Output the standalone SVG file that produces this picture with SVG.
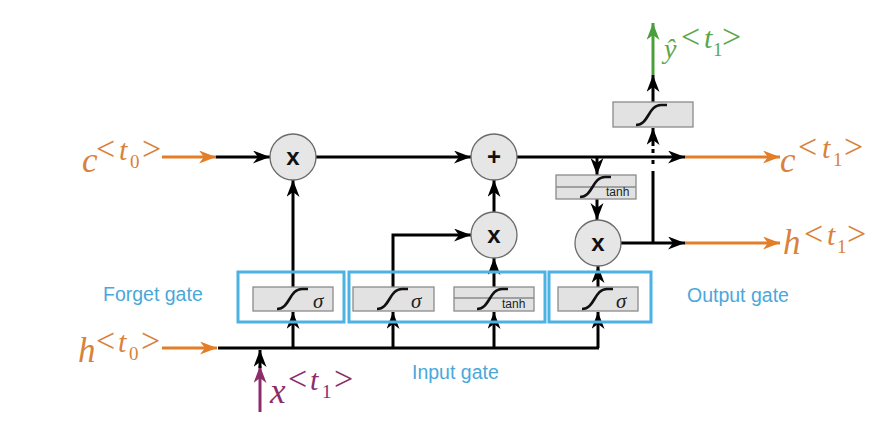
<svg xmlns="http://www.w3.org/2000/svg" xmlns:xlink="http://www.w3.org/1999/xlink" width="879" height="424" viewBox="0 0 879 424">
<style>
.ln{stroke:#000;stroke-width:3;fill:none}
.or{stroke:#e37d27;stroke-width:3;fill:none}
.gr{stroke:#4c9e3a;stroke-width:3;fill:none}
.pu{stroke:#8a2d6a;stroke-width:3;fill:none}
.dash{stroke-dasharray:4 7}
.gate{fill:none;stroke:#4cb1e3;stroke-width:3}
.box{fill:#e2e2e2;stroke:#8a8a8a;stroke-width:1.3}
.op{fill:#e6e6e6;stroke:#6b6b6b;stroke-width:1.3}
.sig{fill:none;stroke:#111;stroke-width:2.7}
.opt{font-family:"Liberation Sans",Arial,sans-serif;font-weight:bold;font-size:24px;fill:#111;text-anchor:middle}
.glab{font-family:"Liberation Sans",Arial,sans-serif;font-size:19.5px;fill:#4aa8db}
.tanh{font-family:"Liberation Sans",Arial,sans-serif;font-size:12px;fill:#222}
.sigma{font-family:"Liberation Serif","DejaVu Serif",serif;font-style:italic;font-size:21px;fill:#222}
.math{font-family:"Liberation Serif","DejaVu Serif",serif}
.it{font-style:italic}
.orange{fill:#d9823a}
.purple{fill:#8a2d6a}
.green{fill:#5aa84a}
</style>
<defs>
<marker id="ak" markerUnits="userSpaceOnUse" markerWidth="18" markerHeight="14" refX="17" refY="6.5" orient="auto" viewBox="0 0 18 14"><path d="M0,0 L17,6.5 L0,13 L5,6.5 z" fill="#000"/></marker>
<marker id="ao" markerUnits="userSpaceOnUse" markerWidth="18" markerHeight="14" refX="17" refY="6.5" orient="auto" viewBox="0 0 18 14"><path d="M0,0 L17,6.5 L0,13 L5,6.5 z" fill="#e37d27"/></marker>
<marker id="ag" markerUnits="userSpaceOnUse" markerWidth="18" markerHeight="14" refX="17" refY="6.5" orient="auto" viewBox="0 0 18 14"><path d="M0,0 L17,6.5 L0,13 L5,6.5 z" fill="#4c9e3a"/></marker>
<marker id="ap" markerUnits="userSpaceOnUse" markerWidth="18" markerHeight="14" refX="17" refY="6.5" orient="auto" viewBox="0 0 18 14"><path d="M0,0 L17,6.5 L0,13 L5,6.5 z" fill="#8a2d6a"/></marker>
<path id="sg" d="M-16,10 C-3,10 -4,-10 9,-10 L15,-10"/>
</defs>
<rect width="879" height="424" fill="#fff"/>

<g id="connectors">
<path class="or" d="M162,157 H216" marker-end="url(#ao)"/>
<path class="ln" d="M216,157 H270" marker-end="url(#ak)"/>
<path class="ln" d="M316,157 H471" marker-end="url(#ak)"/>
<path class="ln" d="M517,157 H685" marker-end="url(#ak)"/>
<path class="or" d="M685,157 H780" marker-end="url(#ao)"/>
<path class="ln" d="M597,157 V175" marker-end="url(#ak)"/>
<path class="ln" d="M597,199 V220" marker-end="url(#ak)"/>
<path class="ln" d="M598,287 V266" marker-end="url(#ak)"/>
<path class="ln" d="M621,243 H685" marker-end="url(#ak)"/>
<path class="or" d="M685,243 H780" marker-end="url(#ao)"/>
<path class="ln" d="M653,243 V175"/>
<path class="ln dash" d="M653,175 V142"/>
<path class="ln" d="M653,146 V128" marker-end="url(#ak)"/>
<path class="ln" d="M653,102 V75" marker-end="url(#ak)"/>
<path class="gr" d="M653,75 V23" marker-end="url(#ag)"/>
<path class="ln" d="M293,287 V180" marker-end="url(#ak)"/>
<path class="ln" d="M393,287 V235 H471" marker-end="url(#ak)"/>
<path class="ln" d="M494,287 V258" marker-end="url(#ak)"/>
<path class="ln" d="M494,212 V180" marker-end="url(#ak)"/>
<path class="ln" d="M218,348 H599"/>
<path class="or" d="M162,348 H217" marker-end="url(#ao)"/>
<path class="pu" d="M260,412 V366" marker-end="url(#ap)"/>
<path class="ln" d="M260,368 V350" marker-end="url(#ak)"/>
<path class="ln" d="M293,348 V312" marker-end="url(#ak)"/>
<path class="ln" d="M393,348 V312" marker-end="url(#ak)"/>
<path class="ln" d="M494,348 V312" marker-end="url(#ak)"/>
<path class="ln" d="M598,348 V312" marker-end="url(#ak)"/>
</g>

<g id="op-forget">
<circle class="op" cx="293" cy="157" r="23"/>
<text class="opt" x="293" y="165">x</text>
</g>
<g id="op-add">
<circle class="op" cx="494" cy="157" r="23"/>
<text class="opt" x="494" y="165">+</text>
</g>
<g id="op-input">
<circle class="op" cx="494" cy="235" r="23"/>
<text class="opt" x="494" y="243">x</text>
</g>
<g id="op-output">
<circle class="op" cx="598" cy="243" r="23"/>
<text class="opt" x="598" y="251">x</text>
</g>

<g id="tanh-cell">
<rect class="box" x="556" y="175" width="80" height="24"/>
<line x1="556" y1="187" x2="636" y2="187" stroke="#8a8a8a" stroke-width="1.3"/>
<use href="#sg" xlink:href="#sg" class="sig" x="596" y="187"/>
<text class="tanh" x="606" y="196">tanh</text>
</g>

<g id="yhat-activation">
<rect class="box" x="613" y="102" width="80" height="25"/>
<use href="#sg" xlink:href="#sg" class="sig" x="652" y="115"/>
</g>

<g id="forget-gate">
<rect class="gate" x="238" y="272" width="106" height="50"/>
<rect class="box" x="253" y="287" width="80" height="24"/>
<use href="#sg" xlink:href="#sg" class="sig" x="293" y="299"/>
<text class="sigma" x="313" y="308">σ</text>
<text class="glab" x="103" y="301">Forget gate</text>
</g>

<g id="input-gate">
<rect class="gate" x="349" y="272" width="196" height="50"/>
<rect class="box" x="353" y="287" width="81" height="24"/>
<use href="#sg" xlink:href="#sg" class="sig" x="393" y="299"/>
<text class="sigma" x="411" y="308">σ</text>
<rect class="box" x="454" y="287" width="80" height="24"/>
<line x1="454" y1="298" x2="534" y2="298" stroke="#8a8a8a" stroke-width="1.3"/>
<use href="#sg" xlink:href="#sg" class="sig" x="493" y="299"/>
<text class="tanh" x="502" y="308">tanh</text>
<text class="glab" x="412" y="379">Input gate</text>
</g>

<g id="output-gate">
<rect class="gate" x="549" y="272" width="102" height="50"/>
<rect class="box" x="558" y="287" width="80" height="24"/>
<use href="#sg" xlink:href="#sg" class="sig" x="598" y="299"/>
<text class="sigma" x="616" y="308">σ</text>
<text class="glab" x="687" y="302">Output gate</text>
</g>

<g id="label-c-t0">
<text class="math orange"><tspan x="82" y="172" class="it" font-size="35">c</tspan><tspan x="96" y="160" font-size="34">&lt;</tspan><tspan x="119" y="160" class="it" font-size="30">t</tspan><tspan x="130" y="168" font-size="19">0</tspan><tspan x="142" y="160" font-size="34">&gt;</tspan></text>
</g>
<g id="label-h-t0">
<text class="math orange"><tspan x="78" y="362" class="it" font-size="35">h</tspan><tspan x="96" y="352" font-size="34">&lt;</tspan><tspan x="118" y="352" class="it" font-size="30">t</tspan><tspan x="129" y="360" font-size="19">0</tspan><tspan x="141" y="352" font-size="34">&gt;</tspan></text>
</g>
<g id="label-x-t1">
<text class="math purple"><tspan x="270" y="403" class="it" font-size="35">x</tspan><tspan x="288" y="390" font-size="34">&lt;</tspan><tspan x="310" y="390" class="it" font-size="30">t</tspan><tspan x="322" y="398" font-size="19">1</tspan><tspan x="334" y="390" font-size="34">&gt;</tspan></text>
</g>
<g id="label-c-t1">
<text class="math orange"><tspan x="780" y="172" class="it" font-size="35">c</tspan><tspan x="798" y="158" font-size="34">&lt;</tspan><tspan x="822" y="158" class="it" font-size="30">t</tspan><tspan x="833" y="166" font-size="19">1</tspan><tspan x="844" y="158" font-size="34">&gt;</tspan></text>
</g>
<g id="label-h-t1">
<text class="math orange"><tspan x="783" y="254" class="it" font-size="35">h</tspan><tspan x="804" y="245" font-size="34">&lt;</tspan><tspan x="827" y="245" class="it" font-size="30">t</tspan><tspan x="837" y="253" font-size="19">1</tspan><tspan x="847" y="245" font-size="34">&gt;</tspan></text>
</g>
<g id="label-yhat-t1">
<text class="math green"><tspan x="664" y="58" class="it" font-size="28">ŷ</tspan><tspan x="681" y="48" font-size="34">&lt;</tspan><tspan x="704" y="48" class="it" font-size="30">t</tspan><tspan x="713" y="56" font-size="19">1</tspan><tspan x="722" y="48" font-size="34">&gt;</tspan></text>
</g>
</svg>
